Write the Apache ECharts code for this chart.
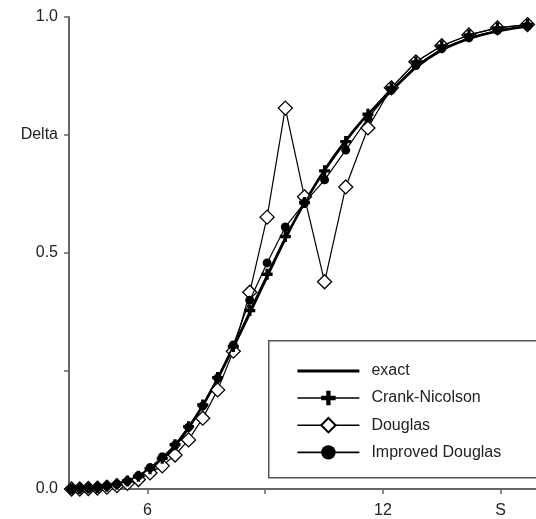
<!DOCTYPE html>
<html>
<head>
<meta charset="utf-8">
<script src="https://cdn.jsdelivr.net/npm/echarts@6/dist/echarts.min.js"></script>
<style>
html,body{margin:0;padding:0;background:#fff;}
#chart{width:536px;height:519px;}
</style>
</head>
<body>
<div id="chart"></div>
<script>
// Stock price grid S (log-spaced)
const S = [4.066, 4.274, 4.493, 4.724, 4.966, 5.220, 5.488, 5.769, 6.065, 6.376,
           6.703, 7.047, 7.408, 7.788, 8.187, 8.607, 9.048, 9.512, 10.000, 10.513,
           11.052, 11.618, 12.214, 12.840, 13.499, 14.191, 14.918, 15.683];

const exact = [0.0004, 0.0008, 0.0016, 0.003, 0.0055, 0.0096, 0.0162, 0.0263, 0.0413, 0.0625,
               0.0914, 0.1292, 0.1767, 0.2339, 0.300, 0.372, 0.450, 0.530, 0.606, 0.676,
               0.738, 0.794, 0.843, 0.893, 0.930, 0.954, 0.970, 0.980];

const crankNicolson = [0.000, 0.001, 0.002, 0.003, 0.006, 0.010, 0.017, 0.027, 0.043, 0.065,
                       0.094, 0.132, 0.178, 0.236, 0.302, 0.378, 0.455, 0.535, 0.607, 0.674,
                       0.736, 0.794, 0.850, 0.905, 0.939, 0.962, 0.977, 0.984];

const douglas = [0.000, 0.000, 0.001, 0.002, 0.004, 0.007, 0.012, 0.020, 0.034, 0.049,
                 0.072, 0.104, 0.150, 0.210, 0.292, 0.417, 0.576, 0.807, 0.619, 0.439,
                 0.640, 0.765, 0.850, 0.905, 0.939, 0.962, 0.977, 0.984];

const improvedDouglas = [0.000, 0.001, 0.002, 0.003, 0.006, 0.010, 0.017, 0.028, 0.045, 0.068,
                         0.093, 0.131, 0.176, 0.235, 0.305, 0.400, 0.479, 0.555, 0.606, 0.655,
                         0.718, 0.786, 0.845, 0.897, 0.933, 0.956, 0.972, 0.981];

const seriesNames = ['exact', 'Crank-Nicolson', 'Douglas', 'Improved Douglas'];
const xTicks = [6, 9, 12, 15];
const xLabels = [6, 12, 15];
const xLabelText = {6: '6', 12: '12', 15: 'S'};
const yLabelText = {0: '0.0', 0.25: '', 0.5: '0.5', 0.75: 'Delta', 1: '1.0'};

const FONT = '"Liberation Sans", Arial, Helvetica, sans-serif';
const pair = arr => S.map((s, i) => [s, arr[i]]);
const plusPath = 'path://M3.5,0H6.5V3.5H10V6.5H6.5V10H3.5V6.5H0V3.5H3.5Z';

const chart = echarts.init(document.getElementById('chart'), null, {renderer: 'canvas'});
chart.setOption({
  backgroundColor: '#fff',
  animation: false,
  grid: {left: 69, right: 0, top: 17, bottom: 30, containLabel: false},
  xAxis: {
    type: 'value', min: 4, max: 15.9,
    axisLine: {show: true, onZero: false, lineStyle: {color: '#666', width: 2}},
    axisTick: {show: true, length: 5, customValues: xTicks, lineStyle: {color: '#666', width: 1.5}},
    axisLabel: {show: true, customValues: xLabels, margin: 14, color: '#222', fontSize: 16, fontFamily: FONT,
                formatter: v => xLabelText[v] !== undefined ? xLabelText[v] : ''},
    splitLine: {show: false}
  },
  yAxis: {
    type: 'value', min: 0, max: 1, interval: 0.25,
    axisLine: {show: true, lineStyle: {color: '#666', width: 2}},
    axisTick: {show: true, length: 5, lineStyle: {color: '#666', width: 1.5}},
    axisLabel: {show: true, margin: 11, color: '#222', fontSize: 16, fontFamily: FONT,
                formatter: v => yLabelText[v] !== undefined ? yLabelText[v] : ''},
    splitLine: {show: false}
  },
  legend: {
    orient: 'vertical', left: 291, top: 358,
    itemWidth: 62, itemHeight: 18, itemGap: 11,
    textStyle: {color: '#222', fontSize: 16, fontFamily: FONT, padding: [0, 0, 0, 7]},
    data: [
      {name: seriesNames[0], itemStyle: {color: 'rgba(0,0,0,0)', borderWidth: 0, opacity: 0}, lineStyle: {width: 2.8, color: '#000'}},
      {name: seriesNames[1], lineStyle: {width: 1.6, color: '#000'}},
      {name: seriesNames[2], lineStyle: {width: 1.6, color: '#000'}},
      {name: seriesNames[3], lineStyle: {width: 1.6, color: '#000'}}
    ],
    z: 10
  },
  graphic: [{
    type: 'rect', left: 268, top: 340, z: 5,
    shape: {width: 300, height: 137},
    style: {fill: '#fff', stroke: '#555', lineWidth: 1.5}
  }],
  series: [
    {name: seriesNames[0], type: 'line', data: pair(exact), smooth: 0.3, symbol: 'none',
     lineStyle: {color: '#000', width: 2.6}, itemStyle: {color: '#000'}, z: 2},
    {name: seriesNames[1], type: 'line', data: pair(crankNicolson), symbol: plusPath, symbolSize: 11,
     lineStyle: {color: '#000', width: 1.2}, itemStyle: {color: '#000'}, z: 4},
    {name: seriesNames[2], type: 'line', data: pair(douglas), symbol: 'diamond', symbolSize: 14,
     lineStyle: {color: '#000', width: 1.2}, itemStyle: {color: '#fff', borderColor: '#000', borderWidth: 1.3}, z: 3},
    {name: seriesNames[3], type: 'line', data: pair(improvedDouglas), symbol: 'circle', symbolSize: 9,
     lineStyle: {color: '#000', width: 1.2}, itemStyle: {color: '#000'}, z: 5}
  ]
});
</script>
</body>
</html>
